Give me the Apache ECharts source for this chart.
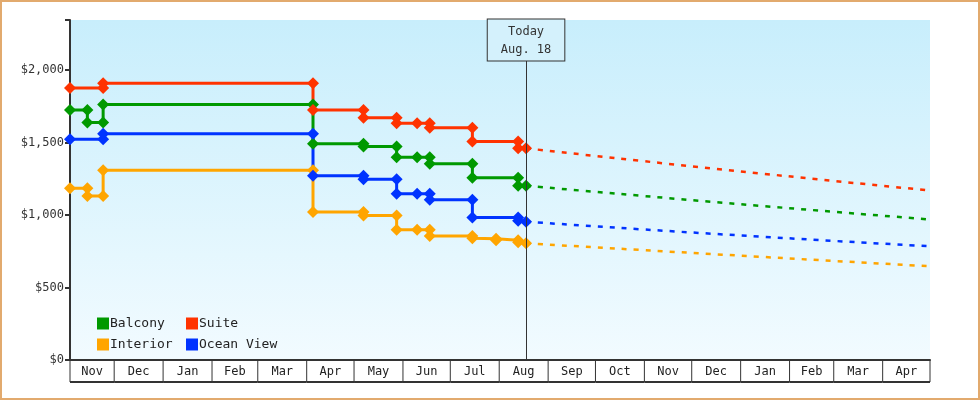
<!DOCTYPE html>
<html><head><meta charset="utf-8">
<script src="https://cdn.jsdelivr.net/npm/echarts@6/dist/echarts.min.js"></script>
<style>html,body{margin:0;padding:0;background:#fff}#c{width:980px;height:400px}</style>
</head><body><div id="c"></div>
<script>
const seriesNames = ['Balcony','Suite','Interior','Ocean View'];
const colors = ['#009900','#ff3300','#ffa500','#0033ff'];
const balcony = [['2023-11-03',1725],['2023-11-14',1725],['2023-11-14',1638],['2023-11-24',1638],['2023-11-24',1762],['2024-04-05',1762],['2024-04-05',1491],['2024-05-07',1491],['2024-05-07',1473],['2024-05-28',1473],['2024-05-28',1399],['2024-06-10',1399],['2024-06-18',1399],['2024-06-18',1353],['2024-07-15',1353],['2024-07-15',1257],['2024-08-13',1257],['2024-08-13',1202],['2024-08-18',1202]];
const suite = [['2023-11-03',1876],['2023-11-24',1876],['2023-11-24',1908],['2024-04-05',1908],['2024-04-05',1725],['2024-05-07',1725],['2024-05-07',1670],['2024-05-28',1670],['2024-05-28',1633],['2024-06-10',1633],['2024-06-18',1633],['2024-06-18',1601],['2024-07-15',1601],['2024-07-15',1507],['2024-08-13',1507],['2024-08-13',1460],['2024-08-18',1460]];
const interior = [['2023-11-03',1184],['2023-11-14',1184],['2023-11-14',1131],['2023-11-24',1131],['2023-11-24',1308],['2024-04-05',1308],['2024-04-05',1021],['2024-05-07',1021],['2024-05-07',996],['2024-05-28',996],['2024-05-28',899],['2024-06-10',899],['2024-06-18',899],['2024-06-18',856],['2024-07-15',856],['2024-07-15',840],['2024-07-30',836],['2024-07-30',826],['2024-08-13',826],['2024-08-13',812],['2024-08-18',805]];
const ocean = [['2023-11-03',1523],['2023-11-24',1523],['2023-11-24',1560],['2024-04-05',1560],['2024-04-05',1271],['2024-05-07',1271],['2024-05-07',1246],['2024-05-28',1246],['2024-05-28',1147],['2024-06-10',1147],['2024-06-18',1147],['2024-06-18',1106],['2024-07-15',1106],['2024-07-15',982],['2024-08-13',982],['2024-08-13',960],['2024-08-18',954]];
const balconyF = [['2024-08-18',1202],['2024-12-15',1090],['2025-04-30',970]];
const suiteF = [['2024-08-18',1460],['2024-12-15',1320],['2025-04-30',1170]];
const interiorF = [['2024-08-18',805],['2024-12-15',730],['2025-04-30',647]];
const oceanF = [['2024-08-18',954],['2024-12-15',870],['2025-04-30',785]];
const months = [['2023-11-03','2023-12-01','Nov'],['2023-12-01','2024-01-01','Dec'],['2024-01-01','2024-02-01','Jan'],['2024-02-01','2024-03-01','Feb'],['2024-03-01','2024-04-01','Mar'],['2024-04-01','2024-05-01','Apr'],['2024-05-01','2024-06-01','May'],['2024-06-01','2024-07-01','Jun'],['2024-07-01','2024-08-01','Jul'],['2024-08-01','2024-09-01','Aug'],['2024-09-01','2024-10-01','Sep'],['2024-10-01','2024-11-01','Oct'],['2024-11-01','2024-12-01','Nov'],['2024-12-01','2025-01-01','Dec'],['2025-01-01','2025-02-01','Jan'],['2025-02-01','2025-03-01','Feb'],['2025-03-01','2025-04-01','Mar'],['2025-04-01','2025-05-01','Apr']];
const yTicks = [0,500,1000,1500,2000];
const today = '2024-08-18';
const font = 'DejaVu Sans Mono';

const chart = echarts.init(document.getElementById('c'));
function solid(name, data, color){
  return {name, type:'line', data, color, symbol:'diamond', symbolSize:12, showSymbol:true,
    lineStyle:{width:3,color}, itemStyle:{color}, z:3, animation:false};
}
function dashed(name, data, color){
  return {name:name+' forecast', type:'line', data, symbol:'none', smooth:true,
    lineStyle:{width:2.5,color,type:[5,7]}, z:2, animation:false};
}
const series = [
  solid('Balcony', balcony, colors[0]), solid('Suite', suite, colors[1]),
  solid('Interior', interior, colors[2]), solid('Ocean View', ocean, colors[3]),
  dashed('Balcony', balconyF, colors[0]), dashed('Suite', suiteF, colors[1]),
  dashed('Interior', interiorF, colors[2]), dashed('Ocean View', oceanF, colors[3]),
  {type:'custom', name:'months', data:months.map(m=>[m[0],m[1],m[2]]), clip:false, silent:true, z:5,
   encode:{x:[0,1]},
   renderItem:function(params, api){
     const s = api.coord([+new Date(api.value(0)), 0]);
     const e = api.coord([+new Date(api.value(1)), 0]);
     const y0 = s[1], y1 = s[1]+22;
     const children = [
       {type:'line', shape:{x1:s[0],y1:y0,x2:s[0],y2:y1}, style:{stroke:'#333',lineWidth:1}},
       {type:'line', shape:{x1:s[0],y1:y1,x2:e[0],y2:y1}, style:{stroke:'#333',lineWidth:2}},
       {type:'text', style:{text:months[params.dataIndex][2], x:(s[0]+e[0])/2, y:(y0+y1)/2+1, align:'center', verticalAlign:'middle', fill:'#222', font:'12px '+font}}
     ];
     if (params.dataIndex === months.length-1) children.push({type:'line', shape:{x1:e[0],y1:y0,x2:e[0],y2:y1}, style:{stroke:'#333',lineWidth:1}});
     return {type:'group', children};
   }},
  {type:'line', name:'today', data:[], markLine:{symbol:'none', silent:true, animation:false,
    lineStyle:{color:'#333',type:'solid',width:1},
    label:{show:true, position:'end', formatter:'Today\nAug. 18', color:'#333', fontFamily:font, fontSize:12, lineHeight:18,
      backgroundColor:'#d4f1fc', borderColor:'#333', borderWidth:1, padding:[3,13,2,13], distance:0},
    data:[[{coord:[today,0]},{coord:[today,2065]}]]}}
];
chart.setOption({
  animation:false,
  textStyle:{fontFamily:font},
  grid:{left:70,right:50,top:20,bottom:40},
  graphic:[
    {type:'rect', shape:{x:70,y:20,width:860,height:340}, z:-1, silent:true,
     style:{fill:new echarts.graphic.LinearGradient(0,0,0,1,[{offset:0,color:'#c8eefc'},{offset:1,color:'#f2fbff'}])}},
    {type:'rect', shape:{x:1,y:1,width:978,height:398}, z:10, silent:true, style:{fill:null,stroke:'#e2aa6e',lineWidth:2}}
  ],
  legend:[
    {data:['Balcony','Interior'], orient:'vertical', left:92, top:312, itemWidth:12, itemHeight:12, itemGap:8, icon:'rect',
     textStyle:{fontFamily:font,fontSize:13,color:'#222',padding:[0,0,0,-4]}},
    {data:['Suite','Ocean View'], orient:'vertical', left:181, top:312, itemWidth:12, itemHeight:12, itemGap:8, icon:'rect',
     textStyle:{fontFamily:font,fontSize:13,color:'#222',padding:[0,0,0,-4]}}
  ],
  xAxis:{type:'time', min:+new Date(months[0][0]), max:+new Date(months[months.length-1][1]),
    axisLine:{lineStyle:{color:'#333',width:2}}, axisTick:{show:false}, axisLabel:{show:false}, splitLine:{show:false}},
  yAxis:{type:'value', min:0, max:2345, interval:500,
    axisLine:{show:true,lineStyle:{color:'#333',width:2}}, axisTick:{show:true,length:5,lineStyle:{color:'#333',width:2}},
    splitLine:{show:false},
    axisLabel:{color:'#333',fontFamily:font,fontSize:12,margin:6,
      formatter:v=>yTicks.includes(v)?'$'+v.toLocaleString('en-US'):''}},
  series
});
</script></body></html>
